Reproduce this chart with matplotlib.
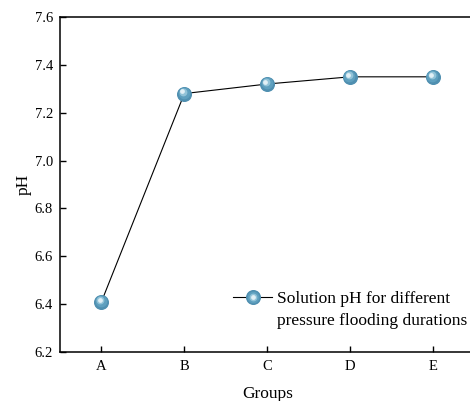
import matplotlib
matplotlib.use("Agg")
import matplotlib.pyplot as plt
from matplotlib.transforms import offset_copy
from matplotlib.legend_handler import HandlerTuple

groups = ["A", "B", "C", "D", "E"]
ph_values = [6.41, 7.28, 7.32, 7.35, 7.35]
y_ticks = [6.2, 6.4, 6.6, 6.8, 7.0, 7.2, 7.4, 7.6]
legend_lines = ["Solution pH for different", "pressure flooding durations"]

plt.rcParams['font.family'] = ['Liberation Serif', 'DejaVu Serif']

fig = plt.figure(figsize=(4.7, 4.01), dpi=100)
ax = fig.add_axes([60 / 470, 1 - 352 / 401, 414.5 / 470, 335 / 401])

x = list(range(len(groups)))
ax.plot(x, ph_values, color='black', lw=0.8, zorder=2)

# shaded ball markers: base plus layered highlights shifted up-left
layers = [
    (9.8, '#4f8fb0', 0, 0),
    (7.4, '#5fa0bf', -0.5, 0.6),
    (4.6, '#92c3d8', -1.0, 1.1),
    (2.4, '#e2f0f6', -1.4, 1.5),
]
handles = []
for size, col, dx, dy in layers:
    tr = offset_copy(ax.transData, fig=fig, x=dx, y=dy, units='points')
    ax.plot(x, ph_values, ls='none', marker='o', ms=size, color=col,
            mec=col, transform=tr, zorder=3)
    if not handles:
        handles.append(plt.Line2D([], [], color='black', lw=0.8, marker='o',
                                  ms=size, mfc=col, mec=col))
    else:
        handles.append(plt.Line2D([], [], ls='none', marker='o', ms=size,
                                  mfc=col, mec=col))

ax.set_xlim(-0.5, 4.5)
ax.set_ylim(6.2, 7.6)
ax.set_xticks(x)
ax.set_xticklabels(groups)
ax.set_yticks(y_ticks)
ax.set_yticklabels([f"{v:.1f}" for v in y_ticks])
ax.tick_params(direction='in', length=4, width=1, labelsize=10.5, colors='black')
ax.tick_params(axis='x', pad=6)
ax.tick_params(axis='y', pad=5)
for s in ax.spines.values():
    s.set_linewidth(1.1)

ax.set_xlabel("Groups", fontsize=12.5, labelpad=9)
ax.set_ylabel("pH", fontsize=12.5, labelpad=2)

blank = plt.Line2D([], [], ls='none')
fig.legend([tuple(handles), blank], legend_lines,
           handler_map={tuple: HandlerTuple(ndivide=1)},
           loc='upper left', bbox_to_anchor=(233 / 470, 1 - 291 / 401),
           frameon=False, fontsize=12.5, borderpad=0, borderaxespad=0,
           handlelength=2.25, handletextpad=0.3, labelspacing=0.33)

fig.savefig("out.png", dpi=100)
